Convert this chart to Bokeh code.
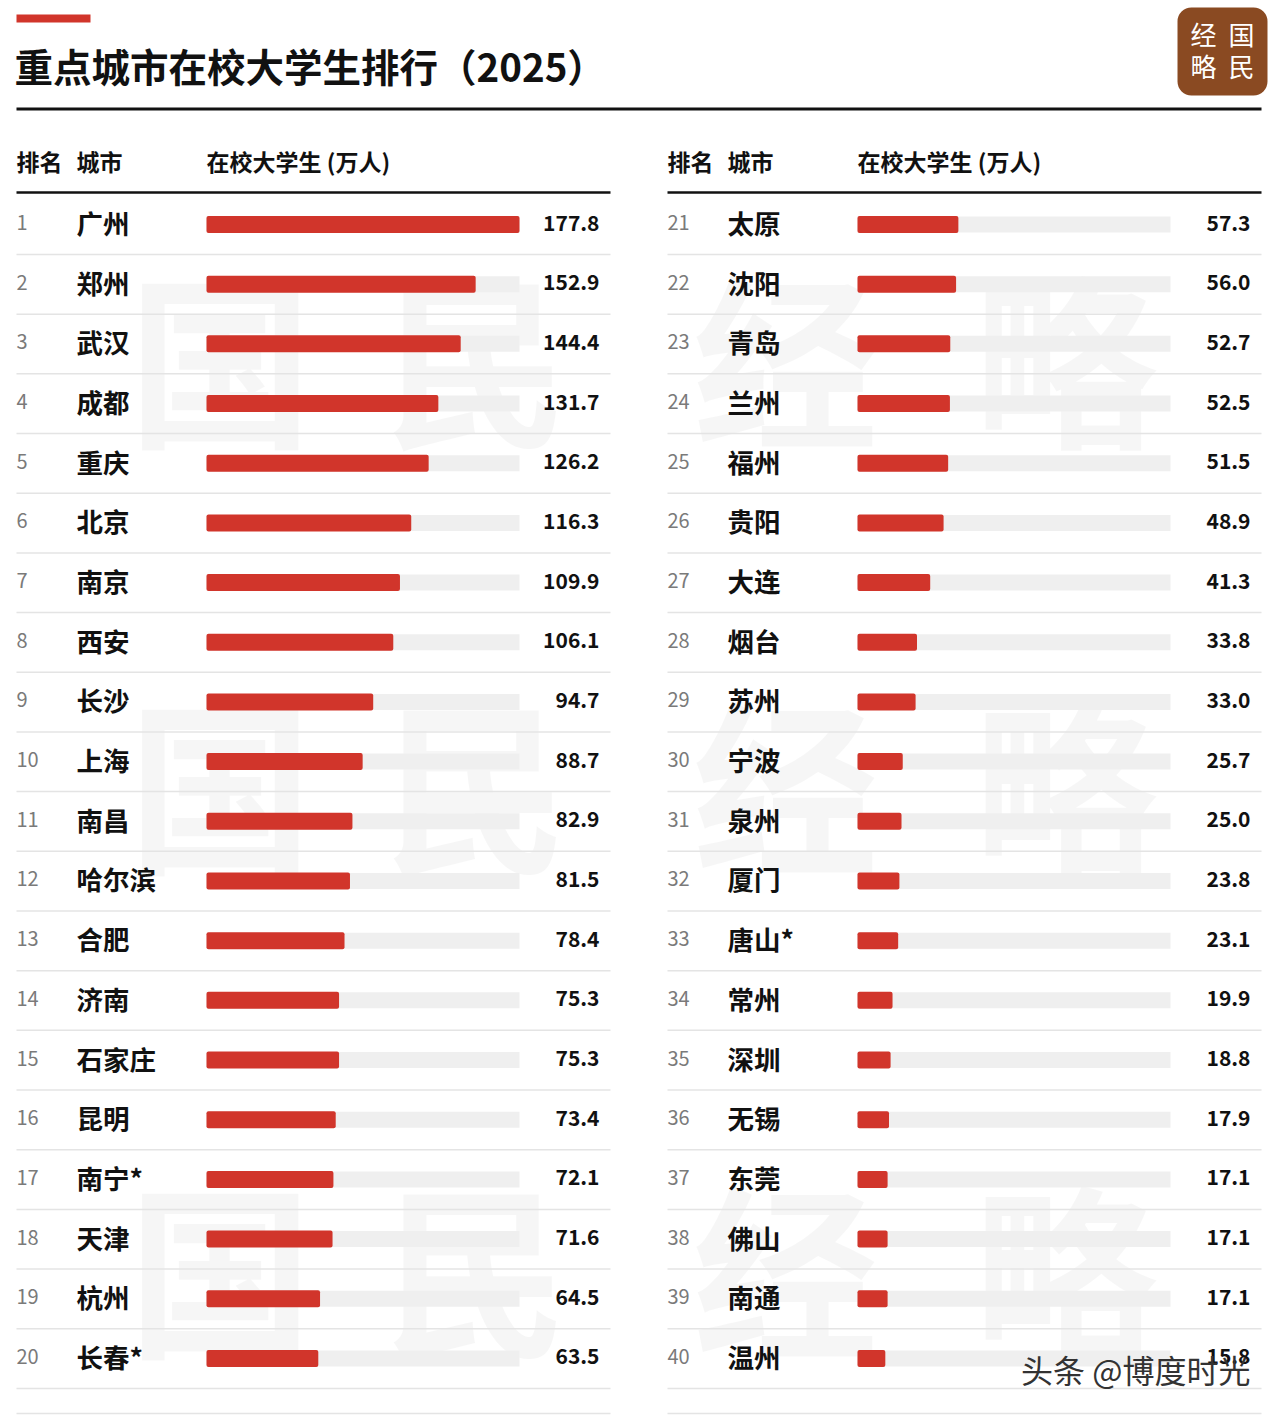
from bokeh.plotting import figure
from bokeh.models import Range1d, ColumnDataSource
from bokeh.core.properties import value
from bokeh.embed import file_html
from bokeh.resources import INLINE

# ---------------- data ----------------
title = "重点城市在校大学生排行（2025）"
headers = ["排名", "城市", "在校大学生 (万人)"]

left_cities = ["广州", "郑州", "武汉", "成都", "重庆", "北京", "南京", "西安", "长沙", "上海",
               "南昌", "哈尔滨", "合肥", "济南", "石家庄", "昆明", "南宁*", "天津", "杭州", "长春*"]
left_values = [177.8, 152.9, 144.4, 131.7, 126.2, 116.3, 109.9, 106.1, 94.7, 88.7,
               82.9, 81.5, 78.4, 75.3, 75.3, 73.4, 72.1, 71.6, 64.5, 63.5]
right_cities = ["太原", "沈阳", "青岛", "兰州", "福州", "贵阳", "大连", "烟台", "苏州", "宁波",
                "泉州", "厦门", "唐山*", "常州", "深圳", "无锡", "东莞", "佛山", "南通", "温州"]
right_values = [57.3, 56.0, 52.7, 52.5, 51.5, 48.9, 41.3, 33.8, 33.0, 25.7,
                25.0, 23.8, 23.1, 19.9, 18.8, 17.9, 17.1, 17.1, 17.1, 15.8]
left_ranks = list(range(1, 21))
right_ranks = list(range(21, 41))
max_value = 177.8

FONT = "Noto Sans CJK SC"
RED = "#d1352b"
TRACK = "#efefef"

# page pixel coordinates (reference image coordinates)
p = figure(width=1280, height=1416, output_backend="svg", toolbar_location=None,
           x_range=Range1d(0, 1280), y_range=Range1d(1416, 0),
           min_border=0, background_fill_color="white")
p.axis.visible = False
p.grid.visible = False
p.outline_line_color = None

# ---------- faint watermark ----------
wm_chars = ["国", "民", "经", "略"] * 3
wm_x = [220, 475, 785, 1065] * 3
wm_y = [352] * 4 + [778] * 4 + [1262] * 4
p.text(x=wm_x, y=wm_y, text=wm_chars, text_font=value(FONT), text_font_size="185px",
       text_font_style="bold", text_color="#000000", text_alpha=0.035,
       text_align="center", text_baseline="middle")

# ---------- title area ----------
p.quad(left=[16], right=[90], top=[14], bottom=[22], fill_color=RED, line_color=None)
p.text(x=[14], y=[64], text=[title], text_font=value(FONT), text_font_size="38.5px",
       text_font_style="bold", text_color="#111111", text_baseline="middle")
p.segment(x0=[16], x1=[1261], y0=[108.5], y1=[108.5], line_color="#111111", line_width=3)

p.quad(left=[1177], right=[1267], top=[7], bottom=[95], fill_color="#8a4a22",
       line_color=None, border_radius=14)
p.text(x=[1203, 1241, 1203, 1241], y=[33, 33, 65, 65], text=["经", "国", "略", "民"],
       text_font=value(FONT), text_font_size="26px", text_color="white",
       text_align="center", text_baseline="middle")

# ---------- columns ----------
row0 = 224.0
pitch = 59.68
px_per_unit = 313.0 / max_value


def draw_column(x_off, ranks, cities, values):
    n = len(values)
    ys = [row0 + i * pitch for i in range(n)]
    ty = [y - 2 for y in ys]
    bar_x0 = 206 + x_off
    src = ColumnDataSource(dict(
        y=ys,
        ty=ty,
        rank=[str(r) for r in ranks],
        city=cities,
        val=values,
        label=[f"{v:.1f}" for v in values],
        left=[bar_x0] * n,
        right=[bar_x0 + v * px_per_unit for v in values],
        track_right=[bar_x0 + max_value * px_per_unit] * n,
    ))
    # headers
    hx = [16 + x_off, 76 + x_off, 206 + x_off]
    p.text(x=hx, y=[160] * 3, text=headers, text_font=value(FONT), text_font_size="23px",
           text_font_style="bold", text_color="#111111", text_baseline="middle")
    p.segment(x0=[16 + x_off], x1=[610 + x_off], y0=[192], y1=[192],
              line_color="#111111", line_width=2.5)
    # row separators
    sep_y = [y + 30 for y in ys] + [1413]
    p.segment(x0=[16 + x_off] * len(sep_y), x1=[610 + x_off] * len(sep_y),
              y0=sep_y, y1=sep_y, line_color="#e4e4e4", line_width=1.5)
    # track and bars
    p.hbar(y="y", left="left", right="track_right", height=16, source=src,
           fill_color=TRACK, line_color=None)
    p.hbar(y="y", left="left", right="right", height=17, source=src,
           fill_color=RED, line_color=None, border_radius=2)
    # texts
    p.text(x=16 + x_off, y="ty", text="rank", source=src, text_font=value(FONT),
           text_font_size="20px", text_color="#7a7a7a", text_baseline="middle")
    p.text(x=76 + x_off, y="ty", text="city", source=src, text_font=value(FONT),
           text_font_size="26.5px", text_font_style="bold", text_color="#111111",
           text_baseline="middle")
    p.text(x=599 + x_off, y="ty", text="label", source=src, text_font=value(FONT),
           text_font_size="21px", text_font_style="bold", text_color="#111111",
           text_align="right", text_baseline="middle")


draw_column(0, left_ranks, left_cities, left_values)
draw_column(651, right_ranks, right_cities, right_values)

# source watermark
p.text(x=[1250], y=[1368], text=["头条 @博度时光"], text_font=value(FONT),
       text_font_size="32px", text_color="#333333", text_align="right",
       text_baseline="middle")

open("out.html", "w").write(file_html(p, INLINE))
